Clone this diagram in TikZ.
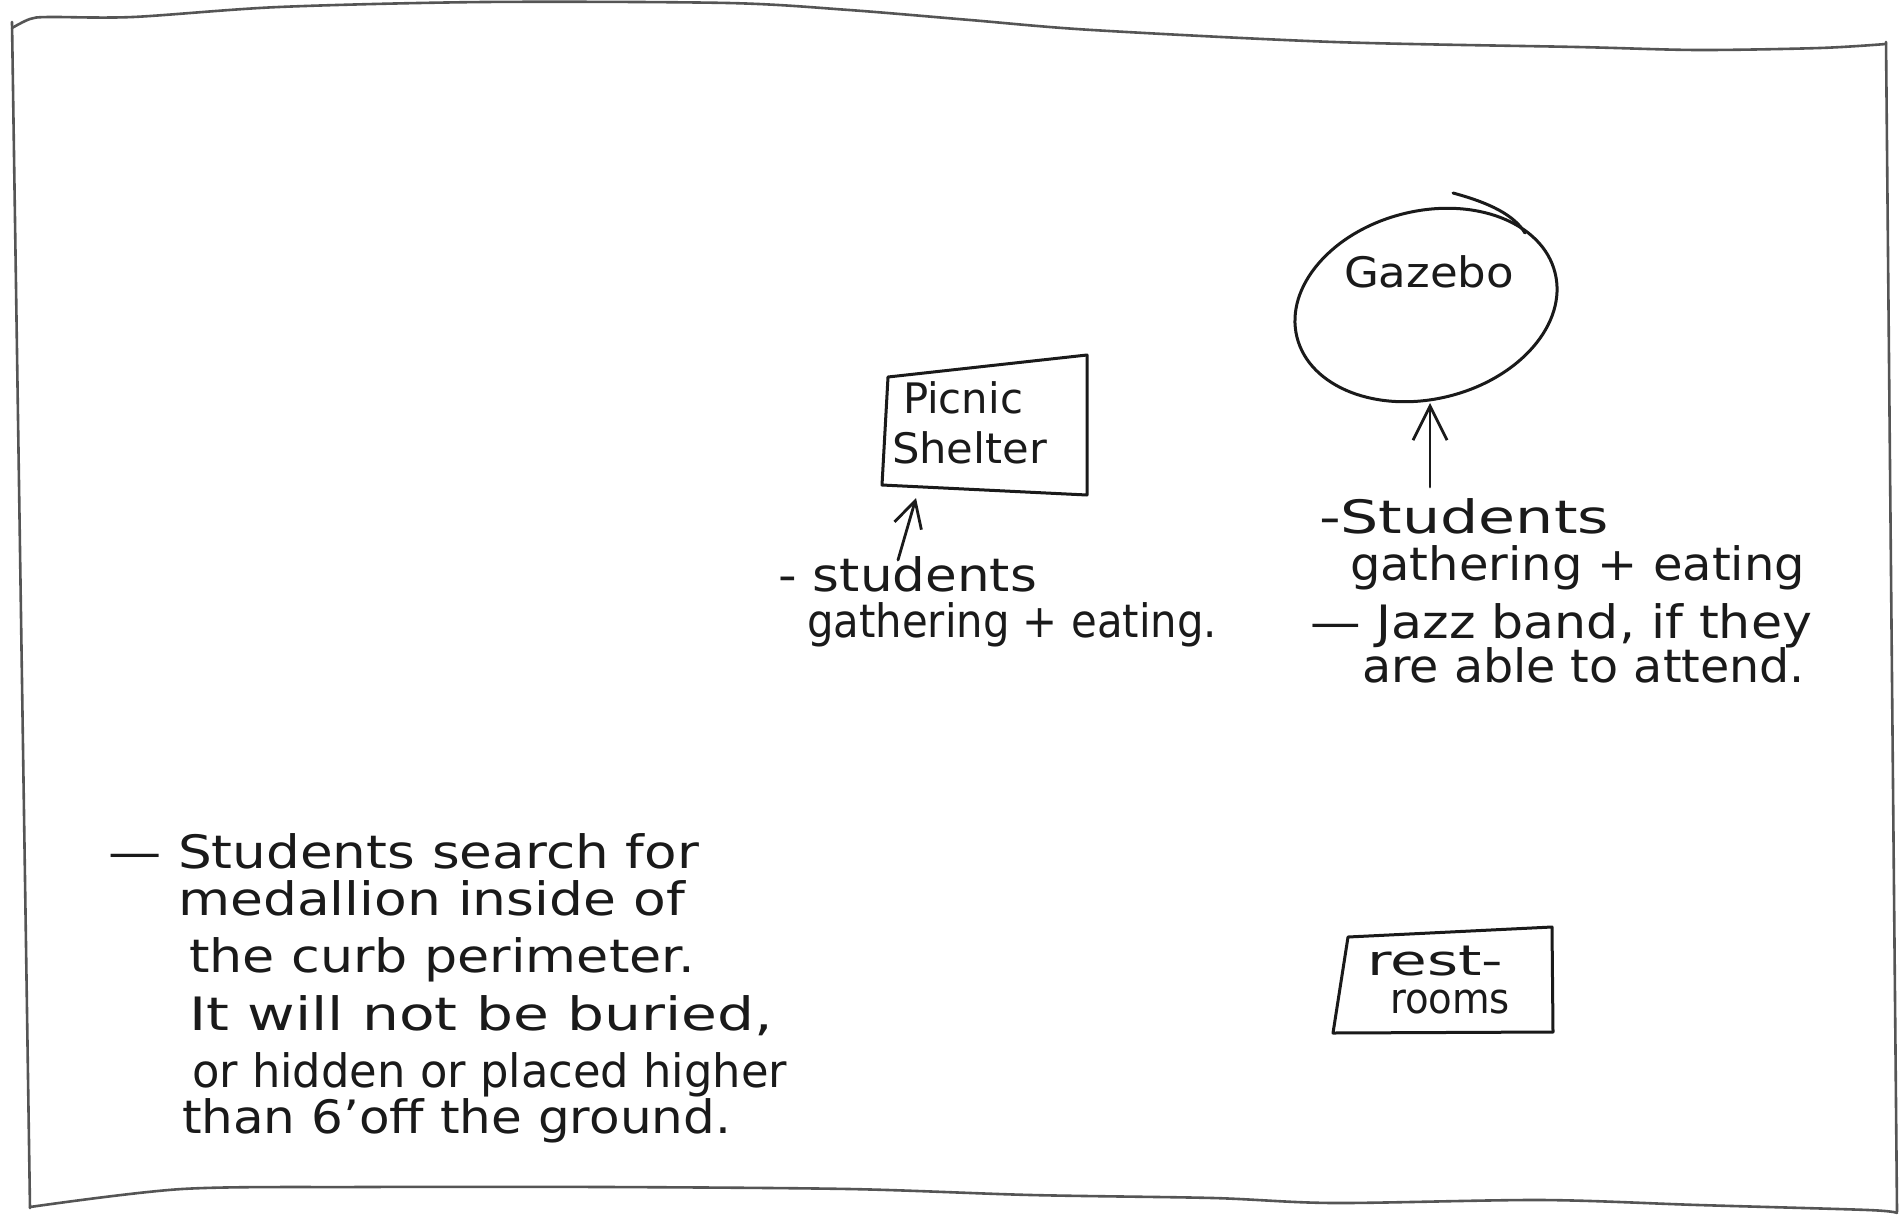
\documentclass[tikz,border=0pt]{standalone}
\usepackage{fontspec}
\setmainfont{DejaVu Sans}
\usetikzlibrary{arrows.meta,shapes.geometric}
\newcommand{\hwtext}[2]{\resizebox{#1pt}{\height}{#2}}
\definecolor{ink}{HTML}{1A1A1A}
\definecolor{edgegray}{HTML}{555555}
\tikzset{
  hand/.style={anchor=base west, inner sep=0pt, outer sep=0pt, text=ink, font=\fontsize{46}{52}\selectfont},
  boxtxt/.style={hand, font=\fontsize{42}{48}\selectfont},
  sketchline/.style={draw=ink, line width=3pt, line join=round, line cap=round},
  bordr/.style={draw=edgegray, line width=2.6pt, line cap=round, line join=round},
  arrowline/.style={draw=ink, line width=2.8pt, line cap=round, -{Straight Barb[length=26pt,width=28pt,line width=2.8pt]}},
  bigarrow/.style={arrowline, -{Straight Barb[length=34pt,width=34pt,line width=2.8pt]}},
}
\begin{document}
\begin{tikzpicture}[x=1pt,y=-1pt]
\useasboundingbox (0,0) rectangle (1902,1215);
\fill[white] (0,0) rectangle (1902,1215);

% paper outline
\draw[bordr] plot[smooth] coordinates {(12,28) (30,19) (49,17) (133,17) (279,7) (485,2) (728,3) (849,10) (970,20) (1092,30) (1334,42) (1577,47) (1698,50) (1820,48) (1886,44)};
\draw[bordr] (12,22) -- (30,1208);
\draw[bordr] (1886,42) -- (1897,1212);
\draw[bordr] plot[smooth] coordinates {(30,1207) (182,1189) (364,1187) (607,1187) (849,1189) (1031,1195) (1213,1198) (1334,1203) (1541,1200) (1698,1205) (1868,1210) (1897,1213)};

% picnic shelter
\coordinate (sA) at (888,377);
\coordinate (sB) at (1087,355);
\coordinate (sC) at (1087,495);
\coordinate (sD) at (882,485);
\draw[sketchline] (sA) -- (sB) -- (sC) -- (sD) -- cycle;
\node[boxtxt] (pic1) at (903,413) {\hwtext{120}{Picnic}};
\node[boxtxt] (pic2) at (892,463) {\hwtext{155}{Shelter}};

% gazebo
\node[draw=ink, line width=3pt, ellipse, minimum width=266pt, minimum height=188pt, inner sep=0pt, rotate=14] (gazebo) at (1426,305) {};
\draw[sketchline] (1453,193) .. controls (1490,203) and (1514,215) .. (1525,233);
\node[boxtxt] (gaztxt) at (1344,287) {\hwtext{170}{Gazebo}};

% restrooms
\coordinate (rA) at (1348,937);
\coordinate (rB) at (1552,927);
\coordinate (rC) at (1553,1032);
\coordinate (rD) at (1333,1033);
\draw[sketchline] (rA) -- (rB) -- (rC) -- (rD) -- cycle;
\node[boxtxt] (rest1) at (1367,975) {\hwtext{136}{rest-}};
\node[boxtxt] (rest2) at (1390,1013) {\hwtext{120}{rooms}};

% shelter notes
\node[hand] (pn1) at (778,591) {\hwtext{259}{- students}};
\node[hand] (pn2) at (807,637) {\hwtext{410}{gathering + eating.}};
\coordinate (ptail) at (898,560);
\coordinate (ptip) at (916,498);
\draw[arrowline] (ptail) -- (ptip);

% gazebo notes
\node[hand] (gn1) at (1319,533) {\hwtext{290}{-Students}};
\node[hand] (gn2) at (1350,580) {\hwtext{455}{gathering + eating}};
\node[hand] (gn3) at (1310,638) {\hwtext{502}{— Jazz band, if they}};
\node[hand] (gn4) at (1362,682) {\hwtext{443}{are able to attend.}};
\coordinate (gtail) at (1430,487);
\coordinate (gtip) at (1430,403);
\draw[bigarrow] (gtail) -- (gtip);

% search notes
\node[hand] (ln1) at (108,868) {\hwtext{591}{— Students search for}};
\node[hand] (ln2) at (178,915) {\hwtext{507}{medallion inside of}};
\node[hand] (ln3) at (189,972) {\hwtext{506}{the curb perimeter.}};
\node[hand] (ln4) at (189,1030) {\hwtext{584}{It will not be buried,}};
\node[hand] (ln5) at (192,1087) {\hwtext{595}{or hidden or placed higher}};
\node[hand] (ln6) at (182,1133) {\hwtext{549}{than 6'off the ground.}};
\end{tikzpicture}
\end{document}
